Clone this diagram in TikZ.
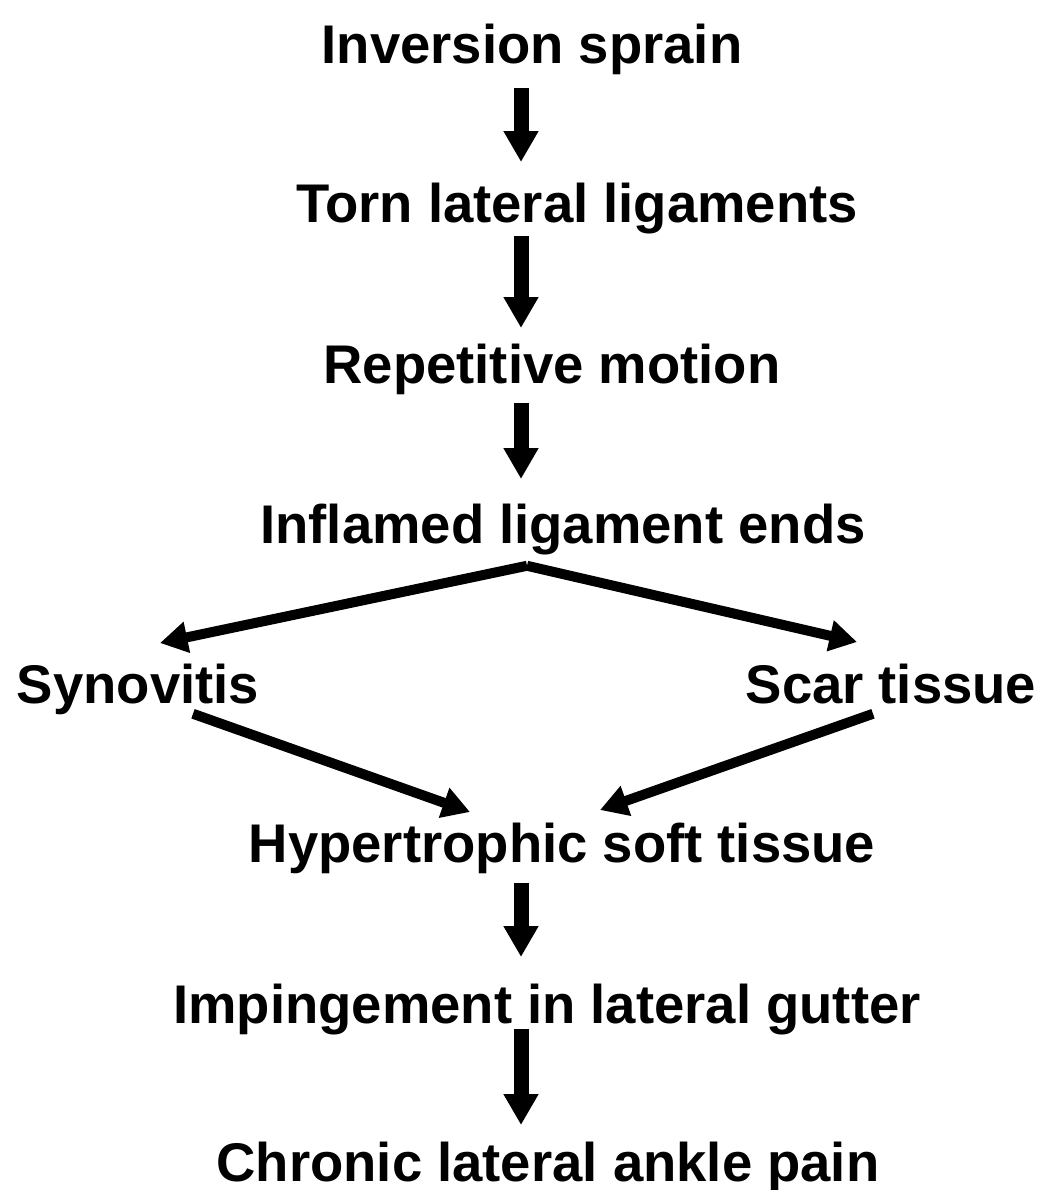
\documentclass[tikz,border=0pt]{standalone}
\usepackage{fontspec}
\setmainfont{Liberation Sans}
\usetikzlibrary{arrows.meta,calc}
\begin{document}
\begin{tikzpicture}[x=0.02cm,y=-0.02cm,
  lbl/.style={font=\bfseries\fontsize{31}{36}\selectfont, inner sep=0pt, text height=22pt, text depth=6.5pt, anchor=base},
  varrow/.style={line width=0.3cm, -{Triangle[length=0.62cm,width=0.66cm]}},
  darrow/.style={line width=0.2cm, -{Triangle[length=0.55cm,width=0.6cm]}}]
\useasboundingbox (0,0) rectangle (1039,1190);
\coordinate (ax) at (521,0);
\node[lbl] (n1) at (532,63) {Inversion sprain};
\node[lbl] (n2) at (577,222) {Torn lateral ligaments};
\node[lbl] (n3) at (552,383) {Repetitive motion};
\node[lbl] (n4) at (563,543) {Inflamed ligament ends};
\node[lbl] (syn) at (138,703) {Synovitis};
\node[lbl] (scar) at (891,703) {Scar tissue};
\node[lbl] (hyp) at (562,862) {Hypertrophic soft tissue};
\node[lbl] (imp) at (547,1023) {Impingement in lateral gutter};
\node[lbl] (chr) at (548,1181) {Chronic lateral ankle pain};

\draw[varrow] ($(n1.south -| ax)+(0,13)$) -- ($(n2.north -| ax)+(0,-21)$);
\draw[varrow] ($(n2.south -| ax)+(0,2)$) -- ($(n3.north -| ax)+(0,-16)$);
\draw[varrow] ($(n3.south -| ax)+(0,8)$) -- ($(n4.north -| ax)+(0,-25)$);
\draw[darrow] ($(n4.south -| ax)+(6,11)$) -- ($(syn.north)+(22,-21)$);
\draw[darrow] ($(n4.south -| ax)+(6,11)$) -- ($(scar.north)+(-34,-22)$);
\draw[darrow] ($(syn.south)+(55,-1)$) -- ($(hyp.north)+(-92,-11)$);
\draw[darrow] ($(scar.south)+(-18,-1)$) -- ($(hyp.north)+(38,-13)$);
\draw[varrow] ($(hyp.south -| ax)+(0,9)$) -- ($(imp.north -| ax)+(0,-27)$);
\draw[varrow] ($(imp.south -| ax)+(0,-6)$) -- ($(chr.north -| ax)+(0,-17)$);
\end{tikzpicture}
\end{document}
